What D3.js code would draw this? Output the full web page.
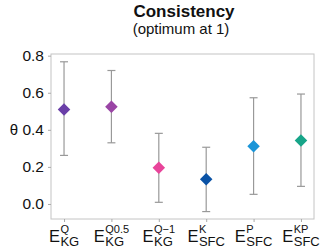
<!DOCTYPE html>
<html>
<head>
<meta charset="utf-8">
<script src="https://cdn.jsdelivr.net/npm/d3@7"></script>
<style>
  body { margin: 0; background: #fff; }
  text { font-family: "Liberation Sans", Arial, sans-serif; }
</style>
</head>
<body>
<div id="chart"></div>
<script>
// data
const labels = ["Q", "Q0.5", "Q-1", "K", "P", "KP"];
const supers = ["Q", "Q0.5", "Q\u22121", "K", "P", "KP"];
const subs = ["KG", "KG", "KG", "SFC", "SFC", "SFC"];
const theta = [0.51, 0.524, 0.196, 0.133, 0.311, 0.343];
const lower = [0.262, 0.33, 0.009, -0.041, 0.052, 0.095];
const upper = [0.767, 0.72, 0.381, 0.306, 0.573, 0.593];
const colors = ["#6a3fa8", "#9a45a5", "#e8449a", "#0a52a5", "#1a95d8", "#17a589"];
const yTicks = [0.0, 0.2, 0.4, 0.6, 0.8];

const W = 320, H = 249;
const margin = {top: 54, right: 6, bottom: 30, left: 51};

const svg = d3.select("#chart").append("svg")
  .attr("width", W).attr("height", H);

const x = d3.scalePoint().domain(labels)
  .range([margin.left, W - margin.right]).padding(0.275);
const y = d3.scaleLinear().domain([-0.081, 0.809])
  .range([H - margin.bottom, margin.top]);

// panel border
svg.append("rect")
  .attr("x", margin.left).attr("y", margin.top)
  .attr("width", W - margin.right - margin.left)
  .attr("height", H - margin.bottom - margin.top)
  .attr("fill", "none").attr("stroke", "#c4c4c4").attr("stroke-width", 1);

// y axis
const yAxis = svg.append("g")
  .attr("transform", "translate(" + margin.left + ",0)")
  .call(d3.axisLeft(y).tickValues(yTicks).tickFormat(d3.format(".1f")).tickSize(3).tickPadding(4));
yAxis.select(".domain").remove();
yAxis.selectAll(".tick line").attr("stroke", "#aaa");
yAxis.selectAll(".tick text").attr("font-size", 15.5).attr("fill", "#111")
  .attr("font-family", "Liberation Sans, Arial, sans-serif");

// x axis ticks
const xAxis = svg.append("g")
  .attr("transform", "translate(0," + (H - margin.bottom) + ")")
  .call(d3.axisBottom(x).tickSize(3).tickFormat(""));
xAxis.select(".domain").remove();
xAxis.selectAll(".tick line").attr("stroke", "#aaa");

// x labels: E with stacked super/subscripts
labels.forEach((k, i) => {
  const g = svg.append("g");
  const e = g.append("text").attr("x", 0).attr("y", 242)
    .attr("font-size", 16.5).attr("fill", "#111").text("E");
  const ew = e.node().getComputedTextLength();
  const sp = g.append("text").attr("x", ew + 0.5).attr("y", 233)
    .attr("font-size", 11).attr("fill", "#111").text(supers[i]);
  const sb = g.append("text").attr("x", ew + 0.5).attr("y", 245.5)
    .attr("font-size", 13).attr("fill", "#111").text(subs[i]);
  const total = ew + 0.5 + Math.max(sp.node().getComputedTextLength(), sb.node().getComputedTextLength());
  g.attr("transform", "translate(" + (x(k) - total / 2) + ",0)");
});

// y title
svg.append("text").attr("x", 14).attr("y", 135)
  .attr("text-anchor", "middle").attr("font-size", 15).attr("fill", "#111")
  .attr("font-family", "DejaVu Sans, sans-serif").text("\u03b8");

// error bars
const bars = svg.append("g");
labels.forEach((k, i) => {
  const cx = x(k);
  bars.append("line").attr("x1", cx).attr("x2", cx)
    .attr("y1", y(lower[i])).attr("y2", y(upper[i]))
    .attr("stroke", "#999").attr("stroke-width", 1.2);
  [lower[i], upper[i]].forEach(v => {
    bars.append("line").attr("x1", cx - 4).attr("x2", cx + 4)
      .attr("y1", y(v)).attr("y2", y(v))
      .attr("stroke", "#999").attr("stroke-width", 1.2);
  });
});

// diamonds
svg.append("g").selectAll("path")
  .data(labels)
  .enter().append("path")
  .attr("d", d3.symbol().type(d3.symbolDiamond2).size(100))
  .attr("transform", (d, i) => "translate(" + x(d) + "," + y(theta[i]) + ")")
  .attr("fill", (d, i) => colors[i]);

// title
svg.append("text").attr("x", 184).attr("y", 17)
  .attr("text-anchor", "middle").attr("font-size", 17).attr("font-weight", "bold")
  .attr("font-family", "DejaVu Sans, sans-serif").attr("fill", "#111").text("Consistency");
svg.append("text").attr("x", 181).attr("y", 33.5)
  .attr("text-anchor", "middle").attr("font-size", 15).attr("fill", "#111")
  .text("(optimum at 1)");
</script>
</body>
</html>
